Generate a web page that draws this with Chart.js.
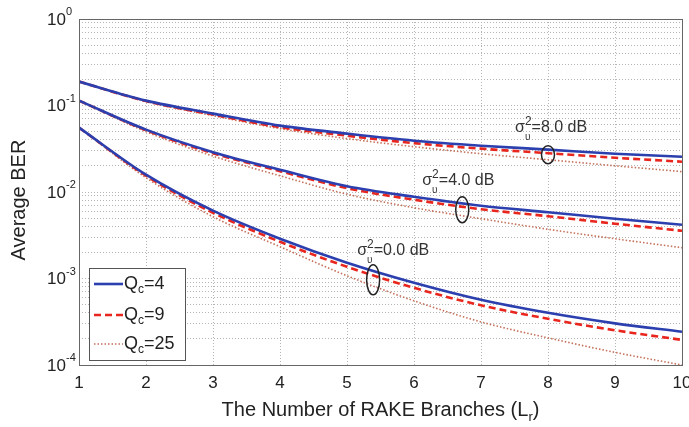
<!DOCTYPE html>
<html>
<head>
<meta charset="utf-8">
<script src="https://cdn.jsdelivr.net/npm/chart.js@4.4.1/dist/chart.umd.min.js"></script>
<style>
  html, body { margin: 0; padding: 0; background: #fff; }
  #wrap { width: 689px; height: 427px; }
</style>
</head>
<body>
<div id="wrap"><canvas id="berChart"></canvas></div>
<script>
// RAKE branches (x axis)
const branches = [1, 2, 3, 4, 5, 6, 7, 8, 9, 10];
const xTicks = [1, 2, 3, 4, 5, 6, 7, 8, 9, 10];
const yTickExps = [0, -1, -2, -3, -4];

// sigma^2 = 8.0 dB
const ber8_q4  = [0.189, 0.1139, 0.0806, 0.0585, 0.0473, 0.0392, 0.0343, 0.0309, 0.0277, 0.0256];
const ber8_q9  = [0.189, 0.1124, 0.0785, 0.0562, 0.0448, 0.0367, 0.0317, 0.0281, 0.0249, 0.0224];
const ber8_q25 = [0.189, 0.111, 0.0764, 0.054, 0.0414, 0.0334, 0.0277, 0.0236, 0.0201, 0.0172];

// sigma^2 = 4.0 dB
const ber4_q4  = [0.1139, 0.0526, 0.0289, 0.0181, 0.01167, 0.00882, 0.00694, 0.00584, 0.00491, 0.00418];
const ber4_q9  = [0.1139, 0.0519, 0.0281, 0.0174, 0.01107, 0.00815, 0.00632, 0.00525, 0.0043, 0.00356];
const ber4_q25 = [0.1139, 0.0499, 0.026, 0.0154, 0.00943, 0.00658, 0.00491, 0.00371, 0.00288, 0.00227];

// sigma^2 = 0.0 dB
const ber0_q4  = [0.0555, 0.01585, 0.00608, 0.00288, 0.00152, 0.000892, 0.000567, 0.000401, 0.000303, 0.000242];
const ber0_q9  = [0.0555, 0.01544, 0.00576, 0.00266, 0.001366, 0.00078, 0.00049, 0.000342, 0.000252, 0.000195];
const ber0_q25 = [0.0555, 0.01464, 0.00518, 0.00233, 0.001075, 0.000552, 0.000315, 0.000206, 0.00014, 0.0001];

const legendLabels = ['4', '9', '25'];

// annotation anchors (data coords) and label offsets
const notes = [
  { x: 8.0, y: 0.027, text: '=8.0 dB', ry: 9, dx: -33, dy: -28 },
  { x: 6.72, y: 0.00624, text: '=4.0 dB', ry: 13, dx: -40, dy: -30 },
  { x: 5.39, y: 0.000966, text: '=0.0 dB', ry: 15, dx: -16, dy: -30 }
];

const FONT = '"Liberation Sans", Arial, sans-serif';
const BLUE = '#2b3fae';
const RED = '#e8261e';
const BROWN = '#c4705a';

const styles = [
  { color: BLUE, width: 2.6, dash: [] },
  { color: RED, width: 2.6, dash: [7, 4] },
  { color: BROWN, width: 1.6, dash: [1.5, 2] }
];

function toPts(arr) {
  return arr.map((v, i) => ({ x: branches[i], y: v }));
}

function mk(arr, s) {
  return {
    data: toPts(arr),
    borderColor: styles[s].color,
    borderWidth: styles[s].width,
    borderDash: styles[s].dash,
    pointRadius: 0,
    cubicInterpolationMode: 'monotone',
    fill: false
  };
}

// first dataset is drawn on top
const datasets = [
  mk(ber8_q4, 0), mk(ber4_q4, 0), mk(ber0_q4, 0),
  mk(ber8_q9, 1), mk(ber4_q9, 1), mk(ber0_q9, 1),
  mk(ber8_q25, 2), mk(ber4_q25, 2), mk(ber0_q25, 2)
];

// text with sub / superscripts
function drawRich(ctx, x, y, parts) {
  let cx = x;
  parts.forEach(p => {
    ctx.font = p.size + 'px ' + FONT;
    ctx.fillText(p.t, cx, y + (p.dy || 0));
    cx += ctx.measureText(p.t).width;
  });
  return cx;
}

const overlay = {
  id: 'overlay',
  afterDraw(chart) {
    const { ctx, chartArea: a, scales: { x, y } } = chart;
    ctx.save();

    // axes box
    ctx.strokeStyle = '#666';
    ctx.lineWidth = 1;
    ctx.strokeRect(Math.round(a.left) + 0.5, Math.round(a.top) + 0.5,
      Math.round(a.right - a.left), Math.round(a.bottom - a.top));

    ctx.fillStyle = '#222';
    ctx.textBaseline = 'middle';

    // y tick labels 10^n
    yTickExps.forEach(e => {
      const py = y.getPixelForValue(Math.pow(10, e));
      ctx.font = '17px ' + FONT;
      ctx.textAlign = 'right';
      ctx.fillText('10', 66, py + 1);
      ctx.font = '11px ' + FONT;
      ctx.textAlign = 'left';
      ctx.fillText(e === 0 ? '0' : String(e), 66, py - 7);
    });

    // x tick labels
    ctx.font = '17px ' + FONT;
    ctx.textAlign = 'center';
    xTicks.forEach(v => {
      ctx.fillText(String(v), x.getPixelForValue(v), a.bottom + 18);
    });

    // x title
    ctx.textAlign = 'left';
    ctx.textBaseline = 'alphabetic';
    ctx.font = '20px ' + FONT;
    const xt = 'The Number of RAKE Branches (L';
    const wMain = ctx.measureText(xt + ')').width;
    ctx.font = '13px ' + FONT;
    const wSub = ctx.measureText('r').width;
    const sx = (a.left + a.right) / 2 - (wMain + wSub) / 2;
    drawRich(ctx, sx, 416, [
      { t: xt, size: 20 },
      { t: 'r', size: 13, dy: 5 },
      { t: ')', size: 20 }
    ]);

    // y title
    ctx.save();
    ctx.translate(25, (a.top + a.bottom) / 2 + 8);
    ctx.rotate(-Math.PI / 2);
    ctx.textAlign = 'center';
    ctx.font = '20px ' + FONT;
    ctx.fillText('Average BER', 0, 0);
    ctx.restore();

    // annotations
    notes.forEach(n => {
      const px = x.getPixelForValue(n.x);
      const py = y.getPixelForValue(n.y);
      ctx.strokeStyle = '#222';
      ctx.lineWidth = 1.5;
      ctx.setLineDash([]);
      ctx.beginPath();
      ctx.ellipse(px, py, 6.5, n.ry, 0, 0, Math.PI * 2);
      ctx.stroke();
      ctx.fillStyle = '#333';
      ctx.textAlign = 'left';
      ctx.textBaseline = 'alphabetic';
      const tx = px + n.dx, ty = py + n.dy + 5;
      ctx.font = '16px ' + FONT;
      const ws = ctx.measureText('\u03c3').width;
      drawRich(ctx, tx, ty, [{ t: '\u03c3', size: 16 }]);
      drawRich(ctx, tx + ws, ty + 8, [{ t: '\u03c5', size: 10 }]);
      const ex = drawRich(ctx, tx + ws, ty - 7, [{ t: '2', size: 12 }]);
      drawRich(ctx, ex, ty, [{ t: n.text, size: 16 }]);
    });

    // legend
    const lx = 89, ly = 268, lw = 96, lh = 92;
    ctx.fillStyle = '#fff';
    ctx.fillRect(lx, ly, lw, lh);
    ctx.strokeStyle = '#555';
    ctx.lineWidth = 1;
    ctx.strokeRect(lx + 0.5, ly + 0.5, lw, lh);
    const rows = [284, 315, 344];
    legendLabels.forEach((lab, i) => {
      const s = styles[i];
      ctx.strokeStyle = s.color;
      ctx.lineWidth = s.width;
      ctx.setLineDash(s.dash);
      ctx.beginPath();
      ctx.moveTo(94, rows[i]);
      ctx.lineTo(123, rows[i]);
      ctx.stroke();
      ctx.setLineDash([]);
      ctx.fillStyle = '#222';
      ctx.textBaseline = 'middle';
      const qx = drawRich(ctx, 124, rows[i], [{ t: 'Q', size: 18 }]);
      const cx2 = drawRich(ctx, qx, rows[i] + 6, [{ t: 'c', size: 12 }]);
      drawRich(ctx, cx2, rows[i], [{ t: '=' + lab, size: 18 }]);
    });

    ctx.restore();
  }
};

const ctx = document.getElementById('berChart').getContext('2d');

new Chart(ctx, {
  type: 'line',
  data: { datasets: datasets },
  options: {
    responsive: true,
    maintainAspectRatio: false,
    animation: false,
    layout: {
      padding: { left: 79, right: 7, top: 19, bottom: 62 }
    },
    scales: {
      x: {
        type: 'linear',
        min: 1,
        max: 10,
        afterBuildTicks: scale => {
          scale.ticks = xTicks.map(v => ({ value: v }));
        },
        ticks: { display: false },
        grid: { color: '#b5b5b5', lineWidth: 1, drawTicks: false },
        border: { display: false, dash: [1, 2] }
      },
      y: {
        type: 'logarithmic',
        min: 1e-4,
        max: 1,
        afterBuildTicks: scale => {
          const t = [];
          yTickExps.forEach(e => {
            for (let k = 1; k <= 9; k++) {
              const v = k * Math.pow(10, e);
              if (v >= 1e-4 && v <= 1) t.push({ value: v });
            }
          });
          scale.ticks = t;
        },
        ticks: { display: false },
        grid: { color: '#b5b5b5', lineWidth: 1, drawTicks: false },
        border: { display: false, dash: [1, 2] }
      }
    },
    plugins: {
      legend: { display: false },
      tooltip: { enabled: false }
    }
  },
  plugins: [overlay]
});
</script>
</body>
</html>
